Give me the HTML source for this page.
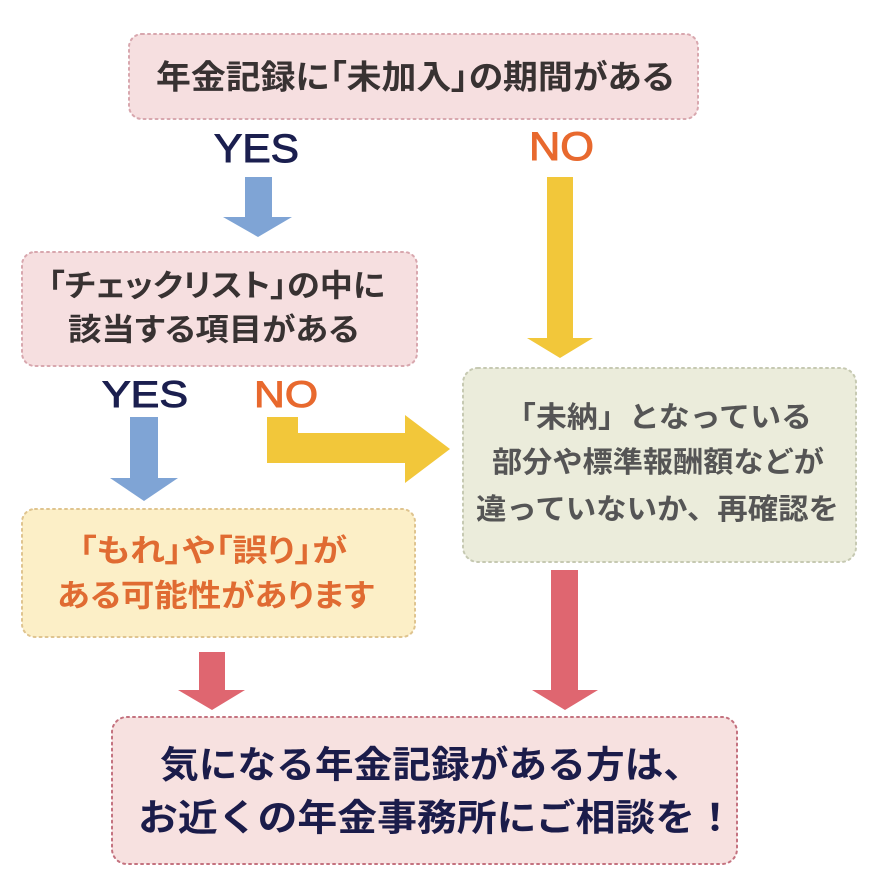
<!DOCTYPE html>
<html><head><meta charset="utf-8">
<style>
html,body{margin:0;padding:0;background:#fff;}
svg{display:block;}
.jp{font-family:"Liberation Sans","Noto Sans CJK JP","Noto Sans CJK SC",sans-serif;font-weight:700;}
.palt{font-feature-settings:"palt" 1;}
.en{font-family:"Liberation Sans",Arial,sans-serif;}
</style></head>
<body>
<svg width="870" height="885" viewBox="0 0 870 885" xmlns="http://www.w3.org/2000/svg">
<rect x="0" y="0" width="870" height="885" fill="#ffffff"/>

<!-- Box 1 -->
<rect x="129" y="34" width="569" height="85" rx="13" ry="13" fill="#f6dfe0" stroke="#d8a7ae" stroke-width="2" stroke-dasharray="2 4" stroke-linecap="round"/>
<text class="jp palt" x="156" y="77" dominant-baseline="central" font-size="33" fill="#383232" textLength="518" lengthAdjust="spacingAndGlyphs">年金記録に「未加入」の期間がある</text>

<!-- YES / NO top -->
<text class="en" x="214" y="162" font-size="40" fill="#1b1f4f" stroke="#1b1f4f" stroke-width="1" textLength="85" lengthAdjust="spacingAndGlyphs">YES</text>
<text class="en" x="529" y="160" font-size="40" fill="#e8692e" stroke="#e8692e" stroke-width="1" textLength="65" lengthAdjust="spacingAndGlyphs">NO</text>

<!-- Blue arrow 1 -->
<polygon points="245,177 272,177 272,217 292,217 258,237 223,217 245,217" fill="#7fa4d5"/>
<!-- Yellow arrow long -->
<polygon points="547,177 573,177 573,338 593,338 560,358 527,338 547,338" fill="#f2c73a"/>

<!-- Box 2 -->
<rect x="22" y="252" width="395" height="114" rx="13" ry="13" fill="#f6dfe0" stroke="#d8a7ae" stroke-width="2" stroke-dasharray="2 4" stroke-linecap="round"/>
<text class="jp palt" x="48" y="286" dominant-baseline="central" font-size="31" fill="#383232" textLength="337" lengthAdjust="spacingAndGlyphs">「チェックリスト」の中に</text>
<text class="jp palt" x="68" y="330" dominant-baseline="central" font-size="31" fill="#383232" textLength="291" lengthAdjust="spacingAndGlyphs">該当する項目がある</text>

<!-- YES / NO middle -->
<text class="en" x="102" y="407" font-size="37" fill="#1b1f4f" stroke="#1b1f4f" stroke-width="1" textLength="86" lengthAdjust="spacingAndGlyphs">YES</text>
<text class="en" x="254" y="407" font-size="37" fill="#e8692e" stroke="#e8692e" stroke-width="1" textLength="64" lengthAdjust="spacingAndGlyphs">NO</text>

<!-- Blue arrow 2 -->
<polygon points="130,417 158,417 158,478 178,478 144,501 110,478 130,478" fill="#7fa4d5"/>

<!-- Yellow elbow arrow -->
<polygon points="267,417 298,417 298,433 405,433 405,415 450,449 405,483 405,463 267,463" fill="#f2c73a"/>

<!-- Box 3 -->
<rect x="22" y="509" width="393" height="128" rx="13" ry="13" fill="#fcefc7" stroke="#dfc48f" stroke-width="2" stroke-dasharray="2 4" stroke-linecap="round"/>
<text class="jp palt" x="79" y="551" dominant-baseline="central" font-size="31" fill="#e06b32" textLength="268" lengthAdjust="spacingAndGlyphs">「もれ」や「誤り」が</text>
<text class="jp palt" x="57" y="596" dominant-baseline="central" font-size="31" fill="#e06b32" textLength="317" lengthAdjust="spacingAndGlyphs">ある可能性があります</text>

<!-- Box 4 -->
<rect x="463" y="368" width="393" height="194" rx="15" ry="15" fill="#ebecdb" stroke="#c6c9b2" stroke-width="2" stroke-dasharray="2 4" stroke-linecap="round"/>
<text class="jp" x="505" y="418" dominant-baseline="central" font-size="29" fill="#555555" textLength="307" lengthAdjust="spacingAndGlyphs">「未納」となっている</text>
<text class="jp" x="492" y="463" dominant-baseline="central" font-size="29" fill="#555555" textLength="332" lengthAdjust="spacingAndGlyphs">部分や標準報酬額などが</text>
<text class="jp" x="476" y="510" dominant-baseline="central" font-size="29" fill="#555555" textLength="363" lengthAdjust="spacingAndGlyphs">違っていないか、再確認を</text>

<!-- Red arrows -->
<polygon points="199,652 225,652 225,690 245,690 212,710 178,690 199,690" fill="#df6670"/>
<polygon points="551,570 578,570 578,690 598,690 565,710 532,690 551,690" fill="#df6670"/>

<!-- Box 5 -->
<rect x="112" y="717" width="625" height="147" rx="15" ry="15" fill="#f7e1e0" stroke="#c4727f" stroke-width="2" stroke-dasharray="2 4" stroke-linecap="round"/>
<text class="jp" x="160" y="765" dominant-baseline="central" font-size="37" font-weight="900" fill="#1b1c4a" textLength="542" lengthAdjust="spacingAndGlyphs">気になる年金記録がある方は、</text>
<text class="jp" x="138" y="818" dominant-baseline="central" font-size="37" font-weight="900" fill="#1b1c4a" textLength="597" lengthAdjust="spacingAndGlyphs">お近くの年金事務所にご相談を！</text>
</svg>
</body></html>
